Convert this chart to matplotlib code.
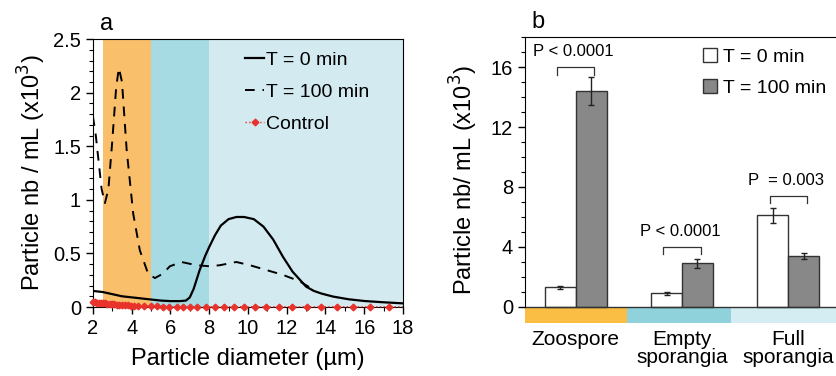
import numpy as np
import matplotlib.pyplot as plt

plt.rcParams['font.family'] = ['Liberation Sans', 'DejaVu Sans']

# --- panel a data ---
d0 = [2.0, 2.5, 3.0, 3.5, 4.0, 4.5, 5.0, 5.5, 6.0, 6.5, 6.8, 7.0, 7.2, 7.5, 7.8, 8.0,
      8.3, 8.6, 9.0, 9.4, 9.8, 10.3, 10.8, 11.3, 11.8, 12.3, 12.7, 13.0, 13.4, 13.8,
      14.4, 15.2, 16.0, 17.0, 18.0]
t0 = [0.15, 0.14, 0.12, 0.10, 0.09, 0.08, 0.07, 0.06, 0.055, 0.055, 0.06, 0.09, 0.17,
      0.34, 0.48, 0.56, 0.67, 0.76, 0.82, 0.84, 0.84, 0.82, 0.75, 0.63, 0.47, 0.33,
      0.25, 0.19, 0.15, 0.125, 0.097, 0.072, 0.056, 0.044, 0.034]
d100 = [2.0, 2.15, 2.3, 2.45, 2.62, 2.8, 3.0, 3.2, 3.34, 3.5, 3.74, 4.08, 4.42, 4.85,
        5.2, 5.6, 5.97, 6.57, 7.34, 8.03, 8.55, 9.4, 10.1, 10.95, 11.8, 12.67, 13.3]
t100 = [1.78, 1.6, 1.35, 1.1, 0.97, 1.1, 1.55, 2.05, 2.23, 2.1, 1.47, 0.87, 0.53, 0.31,
        0.27, 0.31, 0.38, 0.42, 0.39, 0.38, 0.39, 0.42, 0.39, 0.345, 0.30, 0.24, 0.17]
dc = [2.0, 2.1, 2.2, 2.3, 2.4, 2.5, 2.62, 2.74, 2.86, 2.98, 3.1, 3.23, 3.36, 3.5, 3.64,
      3.79, 3.94, 4.1, 4.31, 4.63, 4.98, 5.32, 5.63, 5.94, 6.32, 6.66, 7.0, 7.38, 7.83,
      8.28, 8.78, 9.28, 9.81, 10.36, 10.93, 11.6, 12.29, 13.03, 13.77, 14.58, 15.44,
      16.3, 17.28, 18.0]
ctrl = [0.045, 0.043, 0.041, 0.039, 0.037, 0.035, 0.033, 0.031, 0.029, 0.027, 0.025,
        0.023, 0.021, 0.019, 0.017, 0.015, 0.013, 0.011, 0.009, 0.007, 0.006, 0.005,
        0.004, 0.004, 0.003, 0.003, 0.003, 0.002, 0.002, 0.002, 0.002, 0.002, 0.002,
        0.002, 0.002, 0.002, 0.002, 0.002, 0.002, 0.002, 0.002, 0.002, 0.002, 0.002]
bands = [(2.5, 5.0, '#FABF6B'), (5.0, 8.0, '#A6DBE4'), (8.0, 18.0, '#D2EAF0')]

# --- panel b data ---
cats = ['Zoospore', 'Empty\nsporangia', 'Full\nsporangia']
v0 = [1.3, 0.9, 6.1]
e0 = [0.1, 0.12, 0.5]
v100 = [14.4, 2.9, 3.4]
e100 = [0.95, 0.3, 0.18]
pvals = ['P < 0.0001', 'P < 0.0001', 'P  = 0.003']
brk_y = [16.0, 4.0, 7.4]
strip_cols = ['#FBBE45', '#8FD2DC', '#D3EDF3']

fig = plt.figure(figsize=(8.37, 3.76), dpi=100)

# ---------------- panel a ----------------
ax = fig.add_axes([0.111, 0.1835, 0.3705, 0.7125])
for lo, hi, c in bands:
    ax.axvspan(lo, hi, color=c, lw=0, zorder=0)
ax.plot(d0, t0, color='black', lw=1.6, label='T = 0 min', zorder=3)
ax.plot(d100, t100, color='black', lw=1.4, ls=(0, (5, 4)), label='T = 100 min', zorder=3)
ax.plot(dc, ctrl, color='#E8322B', lw=1.0, ls=':', marker='D', ms=3.4,
        markevery=slice(0, len(dc) - 1), label='Control', zorder=4, clip_on=False)
ax.set_xlim(2, 18)
ax.set_ylim(0, 2.5)
ax.set_xticks(range(2, 19, 2))
ax.set_xticks(range(2, 19, 1), minor=True)
ax.set_yticks([0, 0.5, 1, 1.5, 2, 2.5])
ax.set_yticklabels(['0', '0.5', '1', '1.5', '2', '2.5'])
ax.set_yticks(np.arange(0, 2.51, 0.1), minor=True)
ax.tick_params(labelsize=14.5, direction='out', length=5, width=1)
ax.tick_params(which='minor', length=3, width=0.8)
ax.set_xlabel('Particle diameter (µm)', fontsize=17, labelpad=7)
ax.set_ylabel('Particle nb / mL (x10$^3$)', fontsize=17, labelpad=4)
ax.legend(loc='upper left', bbox_to_anchor=(0.465, 0.985), frameon=False, fontsize=14,
          handlelength=1.0, handletextpad=0.1, labelspacing=0.75, borderaxespad=0.0)
ax.text(0.022, 1.015, 'a', transform=ax.transAxes, fontsize=17, va='bottom')

# ---------------- panel b ----------------
bx = fig.add_axes([0.627, 0.141, 0.373, 0.7605])
x = np.arange(len(cats))
w = 0.29
bx.bar(x - w / 2, v0, w, color='white', edgecolor='#333333', lw=1.0, zorder=2,
       label='T = 0 min')
bx.bar(x + w / 2, v100, w, color='#888888', edgecolor='#333333', lw=1.0, zorder=2,
       label='T = 100 min')
bx.errorbar(x - w / 2, v0, yerr=e0, fmt='none', ecolor='#222222', elinewidth=1,
            capsize=2.5, zorder=3)
bx.errorbar(x + w / 2, v100, yerr=e100, fmt='none', ecolor='#222222', elinewidth=1,
            capsize=2.5, zorder=3)
edges = [-0.48, 0.48, 1.46, 2.46]
for i, c in enumerate(strip_cols):
    bx.fill_between([edges[i], edges[i + 1]], -1.07, 0, color=c, lw=0, zorder=1)
bx.axhline(0, color='#333333', lw=1.0, zorder=2)
for i in range(len(cats)):
    xl, xr = x[i] - w / 2 - 0.03, x[i] + w / 2 + 0.03
    y = brk_y[i]
    bx.plot([xl, xl, xr, xr], [y - 0.5, y, y, y - 0.5], color='#333333', lw=0.9)
    bx.text(x[i] - 0.02, y + 0.55, pvals[i], ha='center', va='bottom', fontsize=12)
bx.set_xlim(-0.48, 2.46)
bx.set_ylim(-1.07, 18)
bx.spines['left'].set_bounds(0, 18)
bx.spines['bottom'].set_visible(False)
bx.spines['right'].set_visible(False)
bx.set_yticks([0, 4, 8, 12, 16])
bx.set_yticks(range(0, 19), minor=True)
bx.set_xticks(x)
bx.set_xticklabels(cats, fontsize=15, linespacing=0.95)
bx.tick_params(axis='x', length=0, pad=5)
bx.tick_params(axis='y', labelsize=14.5, direction='out', length=5, width=1)
bx.tick_params(axis='y', which='minor', length=3, width=0.8)
bx.set_ylabel('Particle nb/ mL (x10$^3$)', fontsize=17, labelpad=8)
bx.legend(loc='upper left', bbox_to_anchor=(0.545, 0.99), frameon=False, fontsize=14,
          handlelength=0.75, handleheight=0.75, handletextpad=0.3, labelspacing=0.7,
          borderaxespad=0.0)
bx.text(0.02, 1.015, 'b', transform=bx.transAxes, fontsize=17, va='bottom')

fig.savefig('out.png', dpi=100)
